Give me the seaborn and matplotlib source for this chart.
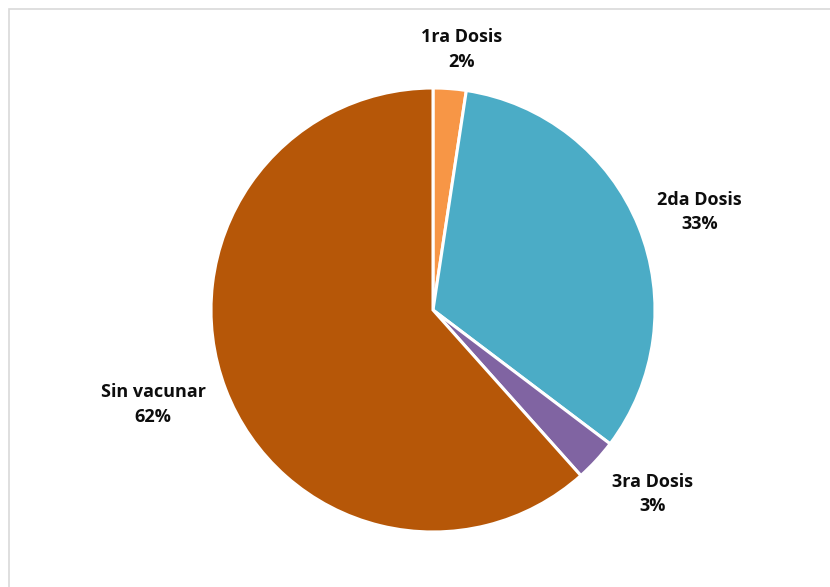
import matplotlib
matplotlib.use("Agg")
import matplotlib.pyplot as plt
import seaborn as sns
import numpy as np
from matplotlib.patches import Rectangle

sns.set_theme(style="white")
plt.rcParams['font.family'] = ['Open Sans', 'DejaVu Sans']

categories = ["1ra Dosis", "2da Dosis", "3ra Dosis", "Sin vacunar"]
values = [2.4, 32.9, 3.1, 61.6]
pct_labels = ["2%", "33%", "3%", "62%"]
colors = ["#F79646", "#4BACC6", "#8064A2", "#B65708"]
label_dist = [1.18, 1.28, 1.29, 1.33]
label_angle_shift = [-2.0, -1.9, 2.7, -2.2]

W, H = 830, 587
fig = plt.figure(figsize=(W / 100, H / 100), dpi=100)
cx, cy, r = 433, 310, 222
ax = fig.add_axes([(cx - r) / W, (H - cy - r) / H, 2 * r / W, 2 * r / H])

wedges, _ = ax.pie(values, colors=colors, startangle=90, counterclock=False,
                   wedgeprops=dict(edgecolor="white", linewidth=2.2))
ax.set_xlim(-1, 1)
ax.set_ylim(-1, 1)
ax.set_aspect("equal")
ax.axis("off")

for w, cat, pct, d, sh in zip(wedges, categories, pct_labels, label_dist, label_angle_shift):
    ang = np.deg2rad((w.theta1 + w.theta2) / 2 + sh)
    ax.text(d * np.cos(ang), d * np.sin(ang), f"{cat}\n{pct}", ha="center", va="center",
            fontsize=13, fontweight="bold", color="#0d0d0d", linespacing=1.45,
            clip_on=False)

# light frame (left/top visible)
fig.add_artist(Rectangle((8.5 / W, -0.1), 1.2, (H - 8.5) / H + 0.1, transform=fig.transFigure,
                         fill=False, edgecolor="#d9d9d9", linewidth=1.2))

fig.savefig("out.png", dpi=100)
